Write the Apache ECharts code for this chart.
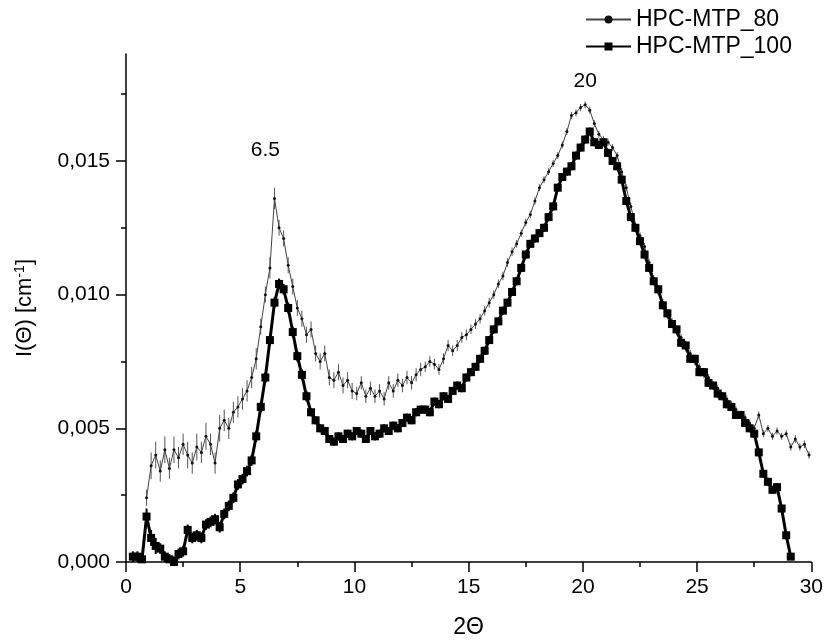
<!DOCTYPE html>
<html>
<head>
<meta charset="utf-8">
<script src="https://cdn.jsdelivr.net/npm/echarts@6/dist/echarts.min.js"></script>
<style>
html,body{margin:0;padding:0;background:#fff;}
#chart{width:826px;height:644px;}
</style>
</head>
<body>
<div id="chart"></div>
<script>
// 2Θ sample positions
const xValues = [
0.3,0.5,0.7,
0.9,1.1,1.3,1.5,1.7,1.9,
2.1,2.3,2.5,2.7,2.9, 3.1,3.3,3.5,3.7,3.9, 4.1,4.3,4.5,4.7,4.9,
5.1,5.3,5.5,5.7,5.9, 6.1,6.3,6.5,6.7,6.9, 7.1,7.3,7.5,7.7,7.9,
8.1,8.3,8.5,8.7,8.9, 9.1,9.3,9.5,9.7,9.9, 10.1,10.3,10.5,10.7,10.9,
11.1,11.3,11.5,11.7,11.9, 12.1,12.3,12.5,12.7,12.9, 13.1,13.3,13.5,13.7,13.9,
14.1,14.3,14.5,14.7,14.9, 15.1,15.3,15.5,15.7,15.9, 16.1,16.3,16.5,16.7,16.9,
17.1,17.3,17.5,17.7,17.9, 18.1,18.3,18.5,18.7,18.9, 19.1,19.3,19.5,19.7,19.9,
20.1,20.3,20.5,20.7,20.9, 21.1,21.3,21.5,21.7,21.9, 22.1,22.3,22.5,22.7,22.9,
23.1,23.3,23.5,23.7,23.9, 24.1,24.3,24.5,24.7,24.9, 25.1,25.3,25.5,25.7,25.9,
26.1,26.3,26.5,26.7,26.9, 27.1,27.3,27.5,27.7,27.9, 28.1,28.3,28.5,28.7,28.9,
29.1,29.3,29.5,29.7,29.9
];

// HPC-MTP_80 intensity I(Θ) [cm^-1]
const mtp80 = [
null,null,null,
0.0024,0.0036,0.0040,0.0034,0.0042,0.0035,
0.0042,0.0039,0.0044,0.0040,0.0037,
0.0043,0.0041,0.0047,0.0044,0.0037,
0.0050,0.0053,0.0050,0.0056,0.0058,
0.0061,0.0064,0.0069,0.0076,0.0088,
0.0100,0.0110,0.0136,0.0125,0.0121,
0.0111,0.0103,0.0095,0.0091,0.0085,
0.0087,0.0078,0.0075,0.0078,0.0069,
0.0068,0.0071,0.0066,0.0068,0.0064,
0.0063,0.0067,0.0062,0.0065,0.0062,
0.0064,0.0061,0.0067,0.0064,0.0068,
0.0066,0.0069,0.0067,0.0070,0.0072,
0.0073,0.0075,0.0074,0.0072,0.0076,
0.0081,0.0079,0.0081,0.0084,0.0085,
0.0087,0.0089,0.0091,0.0094,0.0097,
0.0100,0.0104,0.0107,0.0112,0.0116,
0.0119,0.0123,0.0127,0.0130,0.0135,
0.0140,0.0143,0.0146,0.0149,0.0152,
0.0156,0.0161,0.0167,0.0168,0.0170,
0.0171,0.0169,0.0164,0.0160,0.0158,
0.0157,0.0155,0.0152,0.0146,0.0140,
0.0133,0.0126,0.0122,0.0118,0.0112,
0.0106,0.0101,0.0097,0.0092,0.0090,
0.0086,0.0084,0.0080,0.0078,0.0075,
0.0073,0.0070,0.0069,0.0066,0.0065,
0.0062,0.0061,0.0059,0.0057,0.0055,
0.0054,0.0052,0.0050,0.0055,0.0048,
0.0050,0.0047,0.0049,0.0047,0.0048,
0.0043,0.0046,0.0043,0.0044,0.0040
];

// HPC-MTP_100 intensity I(Θ) [cm^-1]
const mtp100 = [
0.0002,0.0002,0.0001,
0.0017,0.0009,0.0006,0.0005,0.0002,0.0001,
0.0000,0.0003,0.0004,0.0012,0.0009,
0.0010,0.0009,0.0014,0.0015,0.0016,
0.0013,0.0018,0.0021,0.0024,0.0029,
0.0031,0.0034,0.0038,0.0047,0.0058,
0.0069,0.0083,0.0097,0.0104,0.0102,
0.0095,0.0086,0.0077,0.0070,0.0062,
0.0056,0.0053,0.0050,0.0049,0.0046,
0.0045,0.0047,0.0046,0.0048,0.0047,
0.0049,0.0048,0.0046,0.0049,0.0047,
0.0048,0.0050,0.0049,0.0051,0.0050,
0.0052,0.0054,0.0053,0.0056,0.0057,
0.0057,0.0056,0.0060,0.0059,0.0062,
0.0061,0.0064,0.0066,0.0065,0.0069,
0.0071,0.0073,0.0076,0.0079,0.0083,
0.0087,0.0090,0.0094,0.0097,0.0101,
0.0105,0.0110,0.0115,0.0119,0.0121,
0.0123,0.0125,0.0129,0.0133,0.0140,
0.0144,0.0146,0.0148,0.0152,0.0155,
0.0158,0.0161,0.0157,0.0156,0.0157,
0.0153,0.0150,0.0148,0.0143,0.0135,
0.0129,0.0125,0.0120,0.0115,0.0110,
0.0105,0.0102,0.0096,0.0093,0.0089,
0.0087,0.0082,0.0081,0.0076,0.0076,
0.0071,0.0071,0.0067,0.0066,0.0063,
0.0062,0.0059,0.0058,0.0055,0.0055,
0.0052,0.0050,0.0048,0.0041,0.0033,
0.0030,0.0027,0.0028,0.0020,0.0010,
0.0002,null,null,null,null
];

// error bar half-lengths
const err80 = [
0,0,0,
0.0003,0.0005,0.0005,0.0004,0.0005,0.0004,
0.0005,0.0004,0.0004,0.0005,0.0004,
0.0005,0.0004,0.0005,0.0004,0.0004,
0.0005,0.0004,0.0004,0.0004,0.0004,
0.0004,0.0004,0.0004,0.0004,0.0003,
0.0003,0.0004,0.0004,0.0003,0.0003,
0.0003,0.0003,0.0003,0.0003,0.0003,
0.0003,0.0003,0.0003,0.0003,0.0003,
0.0003,0.0003,0.0003,0.0003,0.0003,
0.00025,0.00025,0.00025,0.00025,0.00025,
0.00025,0.00025,0.00025,0.00025,0.00025,
0.00025,0.00025,0.00025,0.00025,0.00025,
0.0002,0.0002,0.0002,0.0002,0.0002,
0.0002,0.0002,0.0002,0.0002,0.0002,
0.00018,0.00018,0.00018,0.00018,0.00018,
0.00016,0.00016,0.00016,0.00016,0.00016,
0.00014,0.00014,0.00014,0.00014,0.00014,
0.00013,0.00013,0.00013,0.00013,0.00013,
0.00013,0.00013,0.00013,0.00013,0.00013,
0.00013,0.00013,0.00013,0.00013,0.00013,
0.00013,0.00013,0.00013,0.00013,0.00013,
0.00013,0.00013,0.00013,0.00013,0.00013,
0.00013,0.00013,0.00013,0.00013,0.00013,
0.00013,0.00013,0.00013,0.00013,0.00013,
0.00013,0.00013,0.00013,0.00013,0.00013,
0.00013,0.00013,0.00013,0.00013,0.00013,
0.00013,0.00013,0.00013,0.00013,0.00013,
0.00013,0.00013,0.00013,0.00013,0.00013,
0.00014,0.00014,0.00014,0.00014,0.00014
];
const err100 = [
0.0002,0.0002,0.0002,
0.0003,0.0003,0.0003,0.0002,0.0002,0.0002,
0.0002,0.0002,0.0002,0.0002,0.0002,
0.0002,0.0002,0.0002,0.0002,0.0002,
0.0002,0.0002,0.0002,0.0002,0.0002,
0.0002,0.0002,0.0002,0.0002,0.0002,
0.0002,0.0002,0.0002,0.0002,0.0002,
0.0002,0.0002,0.0002,0.0002,0.0002,
0.00015,0.00015,0.00015,0.00015,0.00015,
0.00015,0.00015,0.00015,0.00015,0.00015,
0.00015,0.00015,0.00015,0.00015,0.00015,
0.00015,0.00015,0.00015,0.00015,0.00015,
0.00015,0.00015,0.00015,0.00015,0.00015,
0.00015,0.00015,0.00015,0.00015,0.00015,
0.00015,0.00015,0.00015,0.00015,0.00015,
0.00015,0.00015,0.00015,0.00015,0.00015,
0.00015,0.00015,0.00015,0.00015,0.00015,
0.00015,0.00015,0.00015,0.00015,0.00015,
0.00015,0.00015,0.00015,0.00015,0.00015,
0.00015,0.00015,0.00015,0.00015,0.00015,
0.00015,0.00015,0.00015,0.00015,0.00015,
0.00015,0.00015,0.00015,0.00015,0.00015,
0.00015,0.00015,0.00015,0.00015,0.00015,
0.00015,0.00015,0.00015,0.00015,0.00015,
0.00015,0.00015,0.00015,0.00015,0.00015,
0.00015,0.00015,0.00015,0.00015,0.00015,
0.00015,0.00015,0.00015,0.00015,0.00015,
0.00015,0.00015,0.00015,0.00015,0.00015,
0.00015,0.00015,0.00015,0.00015,0.00015
];

const seriesNames = ['HPC-MTP_80', 'HPC-MTP_100'];
const yMajorTicks = [0, 0.005, 0.010, 0.015];
const yMinorTicks = [0.0025, 0.0075, 0.0125, 0.0175];
const peakLabels = ['6.5', '20'];
const peakLabelX = [6.1, 20.1];
const peakLabelY = [0.0154, 0.0180];

const FONT = 'Liberation Sans, Arial, sans-serif';

function pairs(ys) {
  const out = [];
  for (let i = 0; i < xValues.length; i++) {
    if (ys[i] !== null) out.push([xValues[i], ys[i]]);
  }
  return out;
}
function triples(ys, es) {
  const out = [];
  for (let i = 0; i < xValues.length; i++) {
    if (ys[i] !== null) out.push([xValues[i], ys[i], es[i]]);
  }
  return out;
}
function errRender(color, width) {
  return function (params, api) {
    const x = api.value(0), y = api.value(1), e = api.value(2);
    const top = api.coord([x, y + e]);
    const bot = api.coord([x, Math.max(0, y - e)]);
    return {
      type: 'line',
      shape: { x1: top[0], y1: top[1], x2: bot[0], y2: bot[1] },
      style: { stroke: color, lineWidth: width }
    };
  };
}

const chart = echarts.init(document.getElementById('chart'), null, { renderer: 'canvas' });
chart.setOption({
  animation: false,
  backgroundColor: '#fff',
  textStyle: { fontFamily: FONT, color: '#000' },
  grid: { left: 126, right: 10, top: 54, bottom: 77, containLabel: false },
  legend: {
    data: seriesNames,
    orient: 'vertical',
    left: 580,
    top: 3,
    itemWidth: 45,
    itemHeight: 10,
    itemGap: 4,
    textStyle: { fontSize: 23, color: '#000', fontFamily: FONT }
  },
  xAxis: {
    type: 'value',
    min: 0, max: 30, interval: 5,
    name: '2Θ',
    nameLocation: 'middle',
    nameGap: 54,
    nameTextStyle: { fontSize: 23, color: '#000', fontFamily: FONT },
    axisLine: { show: true, onZero: false, lineStyle: { color: '#000', width: 1.5 } },
    axisTick: { show: true, length: 10, lineStyle: { color: '#000', width: 1.5 } },
    minorTick: { show: true, splitNumber: 2, length: 5, lineStyle: { color: '#000', width: 1.5 } },
    splitLine: { show: false },
    axisLabel: { fontSize: 21, color: '#000', margin: 15, fontFamily: FONT }
  },
  yAxis: [{
    type: 'value',
    min: 0, max: 0.019,
    position: 'left',
    name: '{a|I(Θ) [cm}{b|-1}{a|]}',
    nameLocation: 'middle',
    nameGap: 90,
    nameRotate: 90,
    nameTextStyle: {
      rich: {
        a: { fontSize: 22, color: '#000', fontFamily: FONT },
        b: { fontSize: 14, color: '#000', fontFamily: FONT, verticalAlign: 'top', padding: [0, 0, 9, 0] }
      }
    },
    axisLine: { show: true, onZero: false, lineStyle: { color: '#000', width: 1.5 } },
    axisTick: { show: true, length: 10, customValues: yMajorTicks, lineStyle: { color: '#000', width: 1.5 } },
    splitLine: { show: false },
    axisLabel: {
      customValues: yMajorTicks,
      fontSize: 21, color: '#000', margin: 16, fontFamily: FONT,
      formatter: v => v.toFixed(3).replace('.', ',')
    }
  }, {
    type: 'value',
    min: 0, max: 0.019,
    position: 'left',
    offset: 0,
    axisLine: { show: false },
    axisTick: { show: true, length: 5, customValues: yMinorTicks, lineStyle: { color: '#000', width: 1.5 } },
    axisLabel: { show: false },
    splitLine: { show: false }
  }],
  series: [
    {
      type: 'custom',
      name: 'err80',
      data: triples(mtp80, err80),
      encode: { x: 0, y: 1 },
      renderItem: errRender('#555', 1),
      clip: true,
      silent: true
    },
    {
      type: 'line',
      name: seriesNames[0],
      data: pairs(mtp80),
      symbol: 'circle',
      symbolSize: 3,
      showSymbol: true,
      lineStyle: { color: '#444', width: 1 },
      itemStyle: { color: '#111' },
      z: 3
    },
    {
      type: 'custom',
      name: 'err100',
      data: triples(mtp100, err100),
      encode: { x: 0, y: 1 },
      renderItem: errRender('#000', 2),
      clip: true,
      silent: true,
      z: 4
    },
    {
      type: 'line',
      name: seriesNames[1],
      data: pairs(mtp100),
      symbol: 'rect',
      symbolSize: 8,
      showSymbol: true,
      lineStyle: { color: '#000', width: 3 },
      itemStyle: { color: '#000' },
      z: 5
    },
    {
      type: 'scatter',
      name: 'peaks',
      data: peakLabels.map((t, i) => ({ name: t, value: [peakLabelX[i], peakLabelY[i]] })),
      symbolSize: 0,
      itemStyle: { color: '#000', opacity: 1 },
      label: {
        show: true, position: 'inside',
        formatter: p => p.name,
        fontSize: 21, color: '#000', opacity: 1, fontFamily: FONT
      },
      silent: true,
      z: 6
    }
  ]
});
</script>
</body>
</html>
